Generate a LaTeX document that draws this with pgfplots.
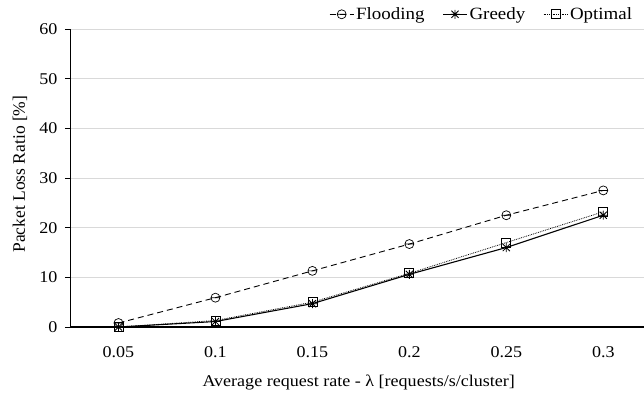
\documentclass[border=0pt]{standalone}
\usepackage{fontspec}
\setmainfont{Liberation Serif}[FakeStretch=1.1]
\newfontfamily\plainserif{Liberation Serif}
\usepackage{pgfplots}
\pgfplotsset{compat=1.18}
\pgfdeclareplotmark{ominus}{%
  \pgfpathcircle{\pgfpoint{0pt}{0pt}}{\pgfplotmarksize}%
  \pgfpathmoveto{\pgfpoint{-\pgfplotmarksize}{0pt}}%
  \pgfpathlineto{\pgfpoint{\pgfplotmarksize}{0pt}}%
  \pgfusepathqstroke}
\pgfdeclareplotmark{xstar}{%
  \pgfpathmoveto{\pgfpoint{0pt}{\pgfplotmarksize}}\pgfpathlineto{\pgfpoint{0pt}{-\pgfplotmarksize}}%
  \pgfpathmoveto{\pgfpoint{-0.8\pgfplotmarksize}{0.8\pgfplotmarksize}}\pgfpathlineto{\pgfpoint{0.8\pgfplotmarksize}{-0.8\pgfplotmarksize}}%
  \pgfpathmoveto{\pgfpoint{-0.8\pgfplotmarksize}{-0.8\pgfplotmarksize}}\pgfpathlineto{\pgfpoint{0.8\pgfplotmarksize}{0.8\pgfplotmarksize}}%
  \pgfpathmoveto{\pgfpoint{-\pgfplotmarksize}{0pt}}\pgfpathlineto{\pgfpoint{\pgfplotmarksize}{0pt}}%
  \pgfusepathqstroke}
\begin{document}
\begin{tikzpicture}
\begin{axis}[
  name=ax,
  scale only axis,
  width=574bp, height=298bp,
  xmin=-0.5, xmax=5.42,
  ymin=0, ymax=60,
  xtick={0,1,2,3,4,5},
  xticklabels={0.05,0.1,0.15,0.2,0.25,0.3},
  ytick={0,10,20,30,40,50,60},
  axis x line*=bottom,
  axis y line*=left,
  x axis line style={-, line width=1.1pt},
  y axis line style={-, line width=0.8pt},
  xtick style={draw=none},
  ytick style={black, line width=0.6pt},
  tick align=outside,
  major tick length=5bp,
  ymajorgrids,
  grid style={gray!30, line width=0.7pt},
  tick label style={font=\fontsize{16.4bp}{18bp}\selectfont},
  /pgf/number format/assume math mode=true,
  xticklabel style={yshift=-11bp},
  yticklabel style={xshift=-4bp},
  xlabel={Average request rate - λ [requests/s/cluster]},
  ylabel={Packet Loss Ratio [\%]},
  xlabel style={font=\fontsize{16.4bp}{18bp}\selectfont, at={(axis description cs:0.503,-0.1846)}, anchor=center},
  ylabel style={font=\plainserif\fontsize{17.5bp}{19bp}\selectfont, at={(axis description cs:-0.087,0.513)}, anchor=center},
  legend style={at={(1.0,1.0)}, anchor=south east, draw=none, fill=none,
    legend columns=3, font=\fontsize{17.2bp}{19bp}\selectfont,
    /tikz/every even column/.append style={column sep=16bp},
    inner sep=0pt, outer sep=0pt, yshift=6bp, xshift=-10bp},
  legend image code/.code={%
    \draw[mark repeat=2, mark phase=2, #1] plot coordinates {(0bp,0bp) (12bp,0bp) (24bp,0bp)};},
  legend cell align=left,
  clip=false,
]
\addplot[black, dash pattern=on 6bp off 4bp, line width=0.9pt, mark=ominus, mark size=4.5bp, mark options={solid, fill=white, line width=0.7pt}]
 coordinates {(0,0.8) (1,5.9) (2,11.3) (3,16.7) (4,22.5) (5,27.5)};
\addlegendentry{Flooding}
\addplot[black, solid, line width=1.1pt, mark=xstar, mark size=4.5bp, mark options={solid, line width=0.8pt}]
 coordinates {(0,0) (1,1.1) (2,4.7) (3,10.6) (4,16.0) (5,22.5)};
\addlegendentry{Greedy}
\addplot[black, densely dotted, line width=0.8pt, mark=square, mark size=4.5bp, mark options={solid, line width=0.8pt}]
 coordinates {(0,0) (1,1.3) (2,5.0) (3,10.8) (4,17.0) (5,23.2)};
\addlegendentry{Optimal}
\end{axis}
\pgfresetboundingbox
\path ([xshift=-70bp,yshift=-71bp]ax.south west) rectangle ([yshift=29bp]ax.north east);
\end{tikzpicture}
\end{document}
